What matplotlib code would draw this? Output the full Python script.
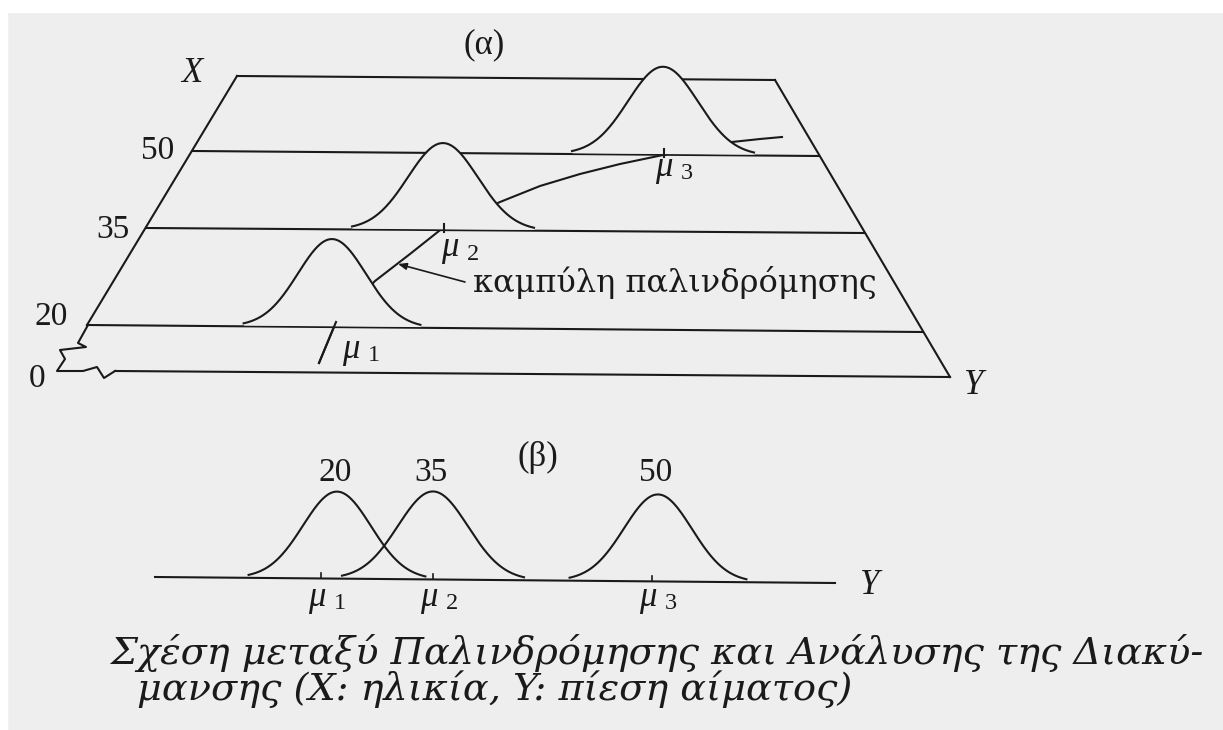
import numpy as np
import matplotlib.pyplot as plt

# Σχήμα σε συντεταγμένες σελίδας (pixel), y προς τα κάτω
W, H = 1223, 730
bg = '#eeeeee'
ink = '#1a1a1a'

# (α) επίπεδο X-Y: γραμμές ηλικιών (αριστερό άκρο, δεξί άκρο)
ages = ['20', '35', '50']
line_left_x = [87, 147, 193]
line_left_y = [325, 228, 151]
line_right_x = [922, 864, 819]
line_right_y = [332, 233, 156]
top_line = [(237, 76), (775, 80)]
bottom_line = [(115, 371), (950, 377)]
zigzag_x = [88, 78, 86, 60, 65, 57, 83, 97, 104, 115]
zigzag_y = [325, 343, 347, 350, 359, 371, 371, 367, 378, 371]

# κατανομές Y για κάθε ηλικία (α)
mu_a = [332, 443, 663]
peak_a = [88, 87, 88]
sigma_a = [34, 35, 35]

# καμπύλη παλινδρόμησης (σημεία που διαβάστηκαν)
reg_x = [319, 336, 375, 410, 444, 500, 540, 580, 620, 663, 732, 760, 782]
reg_y = [363, 322, 281, 254, 227, 202, 186, 174, 164, 155, 142, 139, 137]

# (β) οι τρεις κατανομές στον άξονα Y
mu_b = [337, 433, 658]
tick_b = [321, 433, 652]
peak_b = [87, 88, 87]
sigma_b = [34, 35, 34]
base_b = [(155, 577), (835, 583)]

fig = plt.figure(figsize=(W / 100, H / 100), dpi=100, facecolor=bg)
ax = fig.add_axes([0, 0, 1, 1])
ax.set_xlim(0, W)
ax.set_ylim(H, 0)
ax.axis('off')
ax.set_facecolor(bg)

# λευκό περιθώριο σάρωσης
ax.add_patch(plt.Rectangle((0, 0), W, 12, color='white', zorder=0))
ax.add_patch(plt.Rectangle((0, 0), 7, H, color='white', zorder=0))

lw = 1.5
serif = 'Liberation Serif'


def line_y(x, p0, p1):
    return p0[1] + (x - p0[0]) * (p1[1] - p0[1]) / (p1[0] - p0[0])


def bell(mu, peak, sigma, p0, p1):
    xs = np.linspace(mu - 2.6 * sigma, mu + 2.6 * sigma, 200)
    base = line_y(xs, p0, p1)
    ys = base - peak * np.exp(-0.5 * ((xs - mu) / sigma) ** 2)
    ax.fill_between(xs, base - 1.2, ys, color=bg, lw=0, zorder=3)
    ax.plot(xs, ys, color=ink, lw=lw, zorder=4)


def mu_label(x, y, i, size=25):
    ax.text(x, y, 'μ', fontsize=size, family=serif, style='italic',
            ha='left', va='center', color=ink)
    ax.text(x + size * 1.05, y + size * 0.25, str(i), fontsize=size * 0.7,
            family=serif, ha='left', va='center', color=ink)


# --- (α) ---
lines = [top_line, bottom_line]
for xl, yl, xr, yr in zip(line_left_x, line_left_y, line_right_x, line_right_y):
    lines.append([(xl, yl), (xr, yr)])
for (a, b) in lines:
    ax.plot([a[0], b[0]], [a[1], b[1]], color=ink, lw=lw, zorder=2)

# πλάγιες ακμές
ax.plot([top_line[0][0], line_left_x[0]], [top_line[0][1], line_left_y[0]], color=ink, lw=lw, zorder=2)
ax.plot([top_line[1][0], bottom_line[1][0]], [top_line[1][1], bottom_line[1][1]], color=ink, lw=lw, zorder=2)
ax.plot(zigzag_x, zigzag_y, color=ink, lw=lw, zorder=2)

ax.plot(reg_x, reg_y, color=ink, lw=lw, zorder=2)

planes = [(lines[2 + k][0], lines[2 + k][1]) for k in range(3)]
for k in range(3):
    bell(mu_a[k], peak_a[k], sigma_a[k], *planes[k])

# σημάδια μέσων τιμών
ax.plot(reg_x[:2], [reg_y[0], reg_y[1]], color=ink, lw=lw, zorder=5)
for k in (1, 2):
    yb = line_y(mu_a[k], *planes[k])
    ax.plot([mu_a[k] + 1, mu_a[k] + 1], [yb - 6, yb + 2], color=ink, lw=lw, zorder=5)

ax.annotate('', xy=(398, 264), xytext=(465, 282),
            arrowprops=dict(arrowstyle='-|>,head_length=0.5,head_width=0.2',
                            color=ink, lw=1.2, shrinkA=0, shrinkB=0), zorder=6)
ax.text(473, 292, 'καμπύλη παλινδρόμησης', fontsize=23, family='DejaVu Serif',
        ha='left', va='baseline', color=ink)

ax.text(484, 45, '(α)', fontsize=25, family=serif, ha='center', va='center', color=ink)
ax.text(192, 73, 'X', fontsize=25, family=serif, style='italic', ha='center', va='center', color=ink)
ax.text(973, 385, 'Y', fontsize=25, family=serif, style='italic', ha='center', va='center', color=ink)
num_xy = [(51, 317), (113, 230), (158, 151)]
for lab, (tx, ty) in zip(ages, num_xy):
    ax.text(tx, ty, lab, fontsize=24, family=serif, ha='center', va='center', color=ink)
ax.text(37, 379, '0', fontsize=24, family=serif, ha='center', va='center', color=ink)
mu_label(342, 349, 1)
mu_label(441, 248, 2)
mu_label(655, 167, 3)

# --- (β) ---
ax.plot([base_b[0][0], base_b[1][0]], [base_b[0][1], base_b[1][1]], color=ink, lw=lw, zorder=2)
for k in range(3):
    bxs = np.linspace(mu_b[k] - 2.6 * sigma_b[k], mu_b[k] + 2.6 * sigma_b[k], 200)
    bys = line_y(bxs, *base_b) - peak_b[k] * np.exp(-0.5 * ((bxs - mu_b[k]) / sigma_b[k]) ** 2)
    ax.plot(bxs, bys, color=ink, lw=lw, zorder=4)
    yb = line_y(tick_b[k], *base_b)
    ax.plot([tick_b[k], tick_b[k]], [yb - 5, yb], color=ink, lw=1.2, zorder=4)
    ax.text(mu_b[k] - 2, 473, ages[k], fontsize=24, family=serif, ha='center', va='center', color=ink)
    mu_label(tick_b[k] - 13, 597, k + 1)
ax.text(538, 457, '(β)', fontsize=25, family=serif, ha='center', va='center', color=ink)
ax.text(869, 586, 'Y', fontsize=25, family=serif, style='italic', ha='center', va='center', color=ink)

# λεζάντα
ax.text(110, 664, 'Σχέση μεταξύ Παλινδρόμησης και Ανάλυσης της Διακύ-', fontsize=27.5,
        family='DejaVu Serif', style='italic', ha='left', va='baseline', color=ink)
ax.text(137, 700, 'μανσης (X: ηλικία, Y: πίεση αίματος)', fontsize=27.5,
        family='DejaVu Serif', style='italic', ha='left', va='baseline', color=ink)

fig.savefig('out.png', dpi=100, facecolor=bg)
